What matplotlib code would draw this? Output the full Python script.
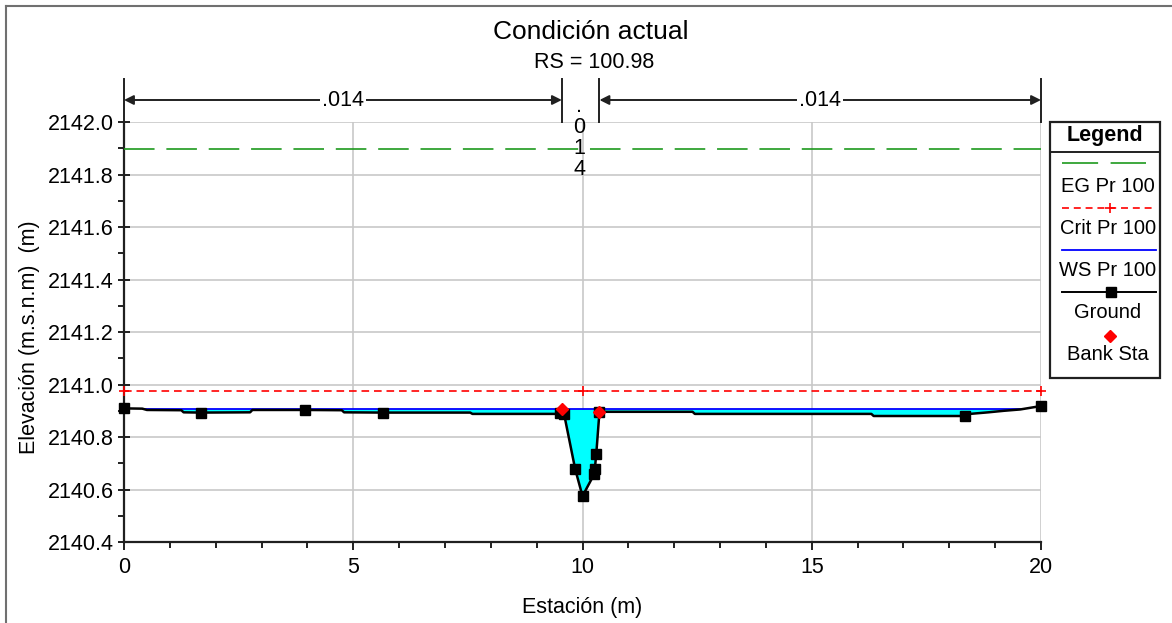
import numpy as np
import matplotlib
matplotlib.use("Agg")
import matplotlib.pyplot as plt
from matplotlib.lines import Line2D
from matplotlib.patches import Rectangle
from matplotlib.transforms import offset_copy

plt.rcParams['font.family'] = ['Liberation Sans', 'DejaVu Sans']
plt.rcParams['lines.scale_dashes'] = False

# ---------------- data ----------------
title = "Condición actual"
subtitle = "RS = 100.98"
xlabel = "Estación (m)"
ylabel = "Elevación (m.s.n.m)  (m)"

ground_sta = [0.0, 0.4, 0.5, 1.25, 1.3, 1.67, 2.75, 2.8, 3.95, 4.75, 4.8, 5.64,
              7.55, 7.6, 9.45, 9.51, 9.60, 9.84, 10.0, 10.26, 10.27, 10.30, 10.37,
              12.4, 12.45, 16.3, 16.35, 18.34, 18.45, 18.85, 19.2, 19.55, 20.0]
ground_elev = [2140.909, 2140.908, 2140.903, 2140.902, 2140.894, 2140.893, 2140.894,
               2140.903, 2140.903, 2140.902, 2140.894, 2140.893, 2140.893, 2140.888,
               2140.888, 2140.890, 2140.886, 2140.678, 2140.575, 2140.660, 2140.680,
               2140.735, 2140.896, 2140.896, 2140.888, 2140.888, 2140.880, 2140.880,
               2140.888, 2140.894, 2140.900, 2140.905, 2140.918]
ground_marked_sta = [0.0, 1.67, 3.95, 5.64, 9.51, 9.60, 9.84, 10.0, 10.26, 10.27,
                     10.30, 10.37, 18.34, 20.0]

bank_sta = [9.55, 10.37]
bank_elev = [2140.905, 2140.897]

ws_elev = 2140.907
crit_elev = 2140.977
crit_mark_sta = [0.0, 10.0, 20.0]
eg_elev = 2141.897

n_left = ".014"
n_chan = ".014"
n_right = ".014"

legend_labels = ["EG Pr 100", "Crit Pr 100", "WS Pr 100", "Ground", "Bank Sta"]

xticks = [0, 5, 10, 15, 20]
yticks = [2140.4, 2140.6, 2140.8, 2141.0, 2141.2, 2141.4, 2141.6, 2141.8, 2142.0]

# ---------------- figure ----------------
W, H = 1172, 623
fig = plt.figure(figsize=(W / 100, H / 100), dpi=100)
fig.patch.set_facecolor("white")

def fx(px):
    return px / W

def fy(py):
    return 1 - py / H

ax = fig.add_axes([fx(124), fy(542), fx(1041) - fx(124), fy(122) - fy(542)])
ax.set_xlim(xticks[0], xticks[-1])
ax.set_ylim(yticks[0], yticks[-1])

gs = np.array(ground_sta)
ge = np.array(ground_elev)

# water fill
ax.fill_between(gs, ge, ws_elev, where=ge < ws_elev, interpolate=True,
                color="#00ffff", linewidth=0, zorder=2)

# water surface extent (where ground crosses the water surface)
below = np.where(ge < ws_elev)[0]
i0, i1 = below[0], below[-1]
if i0 > 0:
    xl = np.interp(ws_elev, [ge[i0], ge[i0 - 1]], [gs[i0], gs[i0 - 1]])
else:
    xl = gs[0]
if i1 < len(gs) - 1:
    xr = np.interp(ws_elev, [ge[i1], ge[i1 + 1]], [gs[i1], gs[i1 + 1]])
else:
    xr = gs[-1]

ax.plot([xl, xr], [ws_elev, ws_elev], color="#0000ff", lw=1.3, zorder=4)

# EG
ax.plot([xticks[0], xticks[-1]], [eg_elev, eg_elev], color="#1e9a1e", lw=1.2,
        dashes=(22, 8.5), zorder=3)
# Crit
ax.plot([xticks[0], xticks[-1]], [crit_elev, crit_elev], color="#ff0000", lw=1.2,
        dashes=(5.5, 3.5), zorder=3)
ax.plot(crit_mark_sta, [crit_elev] * len(crit_mark_sta), linestyle="none",
        marker="+", color="#ff0000", markersize=7, mew=1.2, zorder=3, clip_on=False)

# Ground
mark = [any(abs(s - m) < 1e-9 for m in ground_marked_sta) for s in ground_sta]
ax.plot(gs, ge, color="black", lw=1.8, zorder=5, marker="s", markersize=6.8,
        markevery=mark, markerfacecolor="black", markeredgecolor="black", clip_on=False)
# Bank stations
ax.plot(bank_sta, bank_elev, linestyle="none", marker="D", markersize=6.2,
        color="#ff0000", zorder=6)

# axes styling
ax.set_xticks(xticks)
ax.set_yticks(yticks)
ax.set_xticklabels([str(t) for t in xticks])
ax.set_yticklabels([f"{t:.1f}" for t in yticks])
ax.set_xticks(np.arange(0, 21, 1), minor=True)
ax.set_yticks(np.arange(2140.4, 2142.0001, 0.1), minor=True)
ax.grid(True, which="major", color="#c8c8c8", lw=1.2, zorder=0)
ax.set_axisbelow(True)
for s in ["top", "right"]:
    ax.spines[s].set_visible(False)
for s in ["left", "bottom"]:
    ax.spines[s].set_linewidth(1.6)
    ax.spines[s].set_color("#202020")
ax.tick_params(axis="y", which="major", direction="inout", length=9, width=1.4,
               labelsize=15.5, pad=3, colors="#202020", labelcolor="black")
ax.tick_params(axis="y", which="minor", direction="out", length=4, width=1.4,
               colors="#202020")
ax.tick_params(axis="x", which="major", direction="out", length=6, width=1.4,
               labelsize=15.5, pad=5, colors="#202020", labelcolor="black")
ax.tick_params(axis="x", which="minor", direction="out", length=4, width=1.4,
               colors="#202020")

ax.set_xlabel(xlabel, fontsize=15.5)
ax.set_ylabel(ylabel, fontsize=15.5)
ax.xaxis.label.set_va("center")
ax.yaxis.label.set_va("center")
ax.xaxis.set_label_coords((582 - 124) / 917, -(607 - 542) / 420)
ax.yaxis.set_label_coords(-(124 - 30) / 917, (542 - 337) / 420)

# n-value brackets above the plot
ytop = yticks[-1]
y_arrow = ytop + 22 / 262.5
y_vert = ytop + 43 / 262.5
for xv in [xticks[0], bank_sta[0], bank_sta[1], xticks[-1]]:
    ax.plot([xv, xv], [ytop, y_vert], color="#202020", lw=1.4, clip_on=False, zorder=6)

for (xa, xb, lab) in [(xticks[0], bank_sta[0], n_left), (bank_sta[1], xticks[-1], n_right)]:
    ax.annotate("", xy=(xa, y_arrow), xytext=(xb, y_arrow),
                arrowprops=dict(arrowstyle="<|-|>", color="#202020", lw=1.4,
                                shrinkA=0, shrinkB=0, mutation_scale=14),
                annotation_clip=False)
    ax.text((xa + xb) / 2, y_arrow, lab, ha="center", va="center", fontsize=15.5,
            bbox=dict(facecolor="white", edgecolor="none", pad=1.5), clip_on=False,
            zorder=7)

xc = (bank_sta[0] + bank_sta[1]) / 2 - 0.03
for i, ch in enumerate(n_chan):
    tr = offset_copy(ax.transData, fig=fig, x=0, y=16 - 21 * i, units="dots")
    ax.text(xc, ytop, ch, transform=tr, ha="center", va="center", fontsize=15.5,
            clip_on=False, zorder=7)

# titles
fig.text(fx(591), fy(32), title, ha="center", va="center", fontsize=19)
fig.text(fx(594), fy(63), subtitle, ha="center", va="center", fontsize=15.5)

# outer frame (left and top)
fig.add_artist(Line2D([fx(6), fx(6)], [0, fy(6)], color="#707070", lw=1.5))
fig.add_artist(Line2D([fx(6), 1], [fy(6), fy(6)], color="#707070", lw=1.5))

# legend
L0, R0, T0, B0 = 1050, 1160, 122, 378
lax = fig.add_axes([fx(L0), fy(B0), fx(R0) - fx(L0), fy(T0) - fy(B0)])
lw_, lh_ = R0 - L0, B0 - T0
lax.set_xlim(0, lw_)
lax.set_ylim(lh_, 0)
lax.axis("off")
lax.add_patch(Rectangle((0, 0), lw_, lh_, fill=False, edgecolor="#202020", lw=1.6,
                        clip_on=False))
lax.plot([0, lw_], [30, 30], color="#202020", lw=1.4)
lax.text(lw_ / 2, 14, "Legend", ha="center", va="center", fontsize=15.5,
         fontweight="bold")
cx = lw_ / 2 + 3
# EG
lax.plot([12, 96], [41, 41], color="#1e9a1e", lw=1.2, dashes=(26, 9))
lax.text(cx, 64, legend_labels[0], ha="center", va="center", fontsize=14.5)
# Crit
lax.plot([12, 102], [86, 86], color="#ff0000", lw=1.2, dashes=(5, 3.5))
lax.plot([60], [86], marker="+", color="#ff0000", markersize=7, mew=1.2)
lax.text(cx, 106, legend_labels[1], ha="center", va="center", fontsize=14.5)
# WS
lax.plot([12, 106], [128, 128], color="#0000ff", lw=1.3)
lax.text(cx, 148, legend_labels[2], ha="center", va="center", fontsize=14.5)
# Ground
lax.plot([12, 106], [170, 170], color="black", lw=1.4)
lax.plot([61], [170], marker="s", color="black", markersize=6.5)
lax.text(cx, 191, legend_labels[3], ha="center", va="center", fontsize=14.5)
# Bank
lax.plot([60], [214], marker="D", color="#ff0000", markersize=6)
lax.text(cx, 233, legend_labels[4], ha="center", va="center", fontsize=14.5)

fig.savefig("out.png", dpi=100)
